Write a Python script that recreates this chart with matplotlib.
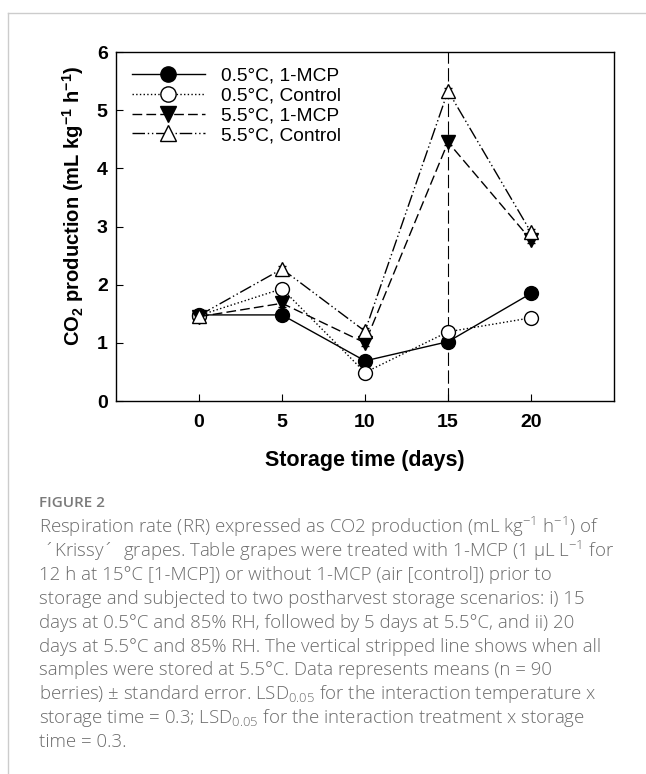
"""Respiration rate of Krissy grapes: CO2 production over storage time."""

import matplotlib

matplotlib.use("Agg")
import matplotlib.pyplot as plt
from matplotlib.lines import Line2D


DAYS = [0, 5, 10, 15, 20]

SERIES_LABELS = [
    "0.5°C, 1-MCP",
    "0.5°C, Control",
    "5.5°C, 1-MCP",
    "5.5°C, Control",
]

CO2_05_MCP = [1.48, 1.48, 0.69, 1.02, 1.85]
CO2_05_CONTROL = [1.47, 1.93, 0.49, 1.19, 1.43]
CO2_55_MCP = [1.45, 1.68, 1.00, 4.45, 2.77]
CO2_55_CONTROL = [1.47, 2.27, 1.20, 5.33, 2.90]

ERR_05_MCP = [0.04, 0.04, 0.04, 0.04, 0.04]
ERR_05_CONTROL = [0.04, 0.09, 0.04, 0.04, 0.04]
ERR_55_MCP = [0.05, 0.06, 0.05, 0.05, 0.06]
ERR_55_CONTROL = [0.06, 0.05, 0.05, 0.05, 0.05]

X_TICKS = [0, 5, 10, 15, 20]
Y_TICKS = [0, 1, 2, 3, 4, 5, 6]

CAPTION_TITLE = "FIGURE 2"
CAPTION_LINES = [
    r"Respiration rate (RR) expressed as CO2 production (mL kg$^{\mathregular{-1}}$ h$^{\mathregular{-1}}$) of",
    r" ´Krissy´  grapes. Table grapes were treated with 1-MCP (1 µL L$^{\mathregular{-1}}$ for",
    "12 h at 15°C [1-MCP]) or without 1-MCP (air [control]) prior to",
    "storage and subjected to two postharvest storage scenarios: i) 15",
    "days at 0.5°C and 85% RH, followed by 5 days at 5.5°C, and ii) 20",
    "days at 5.5°C and 85% RH. The vertical stripped line shows when all",
    "samples were stored at 5.5°C. Data represents means (n = 90",
    r"berries) ± standard error. LSD$_{\mathregular{0.05}}$ for the interaction temperature x",
    r"storage time = 0.3; LSD$_{\mathregular{0.05}}$ for the interaction treatment x storage",
    "time = 0.3.",
]

CHART_FONT = ["Liberation Sans", "DejaVu Sans"]
CAPTION_FONT = ["Open Sans", "DejaVu Sans"]


def main() -> None:
    plt.rcParams["font.family"] = CHART_FONT

    fig = plt.figure(figsize=(6.46, 7.74), dpi=100)
    ax = fig.add_axes([0.1796, 0.4819, 0.7709, 0.4509])

    styles = [
        (CO2_05_MCP, ERR_05_MCP, "-", "o", "black"),
        (CO2_05_CONTROL, ERR_05_CONTROL, ":", "o", "white"),
        (CO2_55_MCP, ERR_55_MCP, (0, (7, 3)), "v", "black"),
        (CO2_55_CONTROL, ERR_55_CONTROL, (0, (9, 2, 1, 2, 1, 2)), "^", "white"),
    ]

    ax.axvline(15, color="black", lw=0.8, ls=(0, (12, 4)), zorder=1)

    handles = []
    for (values, errs, ls, marker, face), label in zip(styles, SERIES_LABELS):
        container = ax.errorbar(
            DAYS,
            values,
            yerr=errs,
            color="black",
            ls=ls,
            lw=1.0,
            marker=marker,
            markersize=10,
            markerfacecolor=face,
            markeredgecolor="black",
            markeredgewidth=1.0,
            capsize=3,
            elinewidth=0.8,
            label=label,
            zorder=3,
        )
        handles.append(container.lines[0])

    ax.set_xlim(-5, 25)
    ax.set_ylim(0, 6)
    ax.set_xticks(X_TICKS)
    ax.set_yticks(Y_TICKS)
    ax.tick_params(direction="in", length=5, width=0.8, labelsize=14, pad=9)
    for tick in ax.get_xticklabels() + ax.get_yticklabels():
        tick.set_fontweight("bold")
    ax.tick_params(axis="y", pad=6)
    for spine in ax.spines.values():
        spine.set_linewidth(1.0)

    ax.set_xlabel("Storage time (days)", fontsize=15.5, fontweight="bold", labelpad=14)
    ax.set_ylabel(
        r"CO$_{\mathregular{2}}$ production (mL kg$^{\mathregular{-1}}$ h$^{\mathregular{-1}}$)",
        fontsize=14.5,
        fontweight="bold",
        labelpad=8,
    )
    ax.yaxis.label.set_y(0.56)

    ax.legend(
        handles,
        SERIES_LABELS,
        loc="upper left",
        bbox_to_anchor=(0.032, 0.957),
        frameon=False,
        fontsize=13.8,
        handlelength=3.8,
        handletextpad=0.85,
        labelspacing=0.13,
        borderpad=0,
        borderaxespad=0,
        markerscale=1.1,
    )

    # light grey card border around the figure
    fig.add_artist(Line2D([8 / 646, 1], [1 - 13 / 774, 1 - 13 / 774], color="#cccccc", lw=1.0))
    fig.add_artist(Line2D([8 / 646, 8 / 646], [0, 1 - 13 / 774], color="#cccccc", lw=1.0))

    fig.text(
        39 / 646, 1 - 503 / 774, CAPTION_TITLE, fontsize=11, fontweight="semibold",
        color="#7a7a7a", family=CAPTION_FONT, va="center",
    )
    for i, line in enumerate(CAPTION_LINES):
        fig.text(
            39 / 646, 1 - (527 + i * 23.9) / 774, line, fontsize=13.4,
            color="#6b6b6b", family=CAPTION_FONT, fontweight="light", va="center",
        )

    fig.savefig("out.png", dpi=100)
    plt.close(fig)


if __name__ == "__main__":
    main()
